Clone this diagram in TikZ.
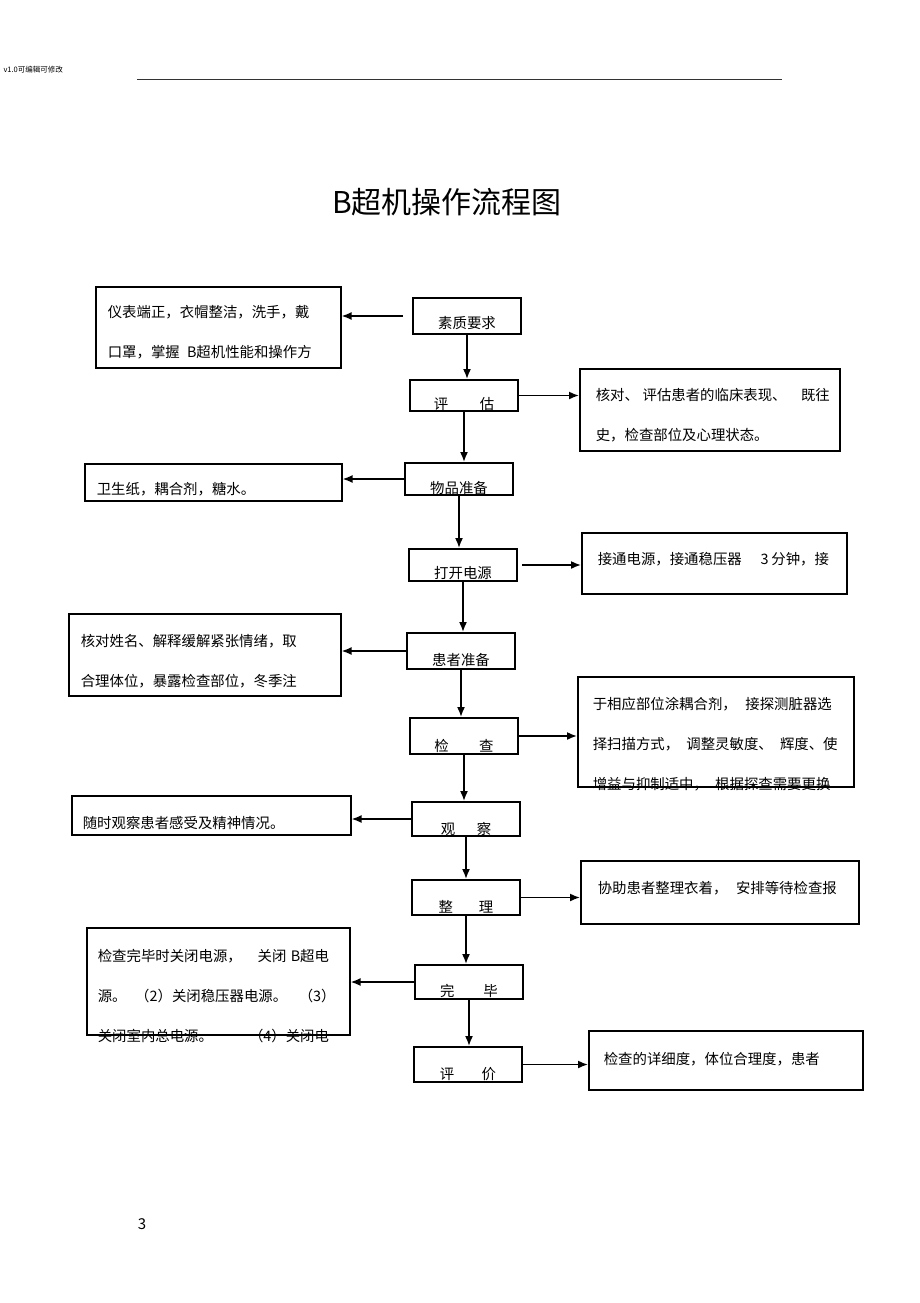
\documentclass[tikz,border=0pt]{standalone}
\usepackage{fontspec}
\setmainfont{Noto Sans CJK SC}
\usetikzlibrary{arrows.meta}
\newcommand\cgap[1]{\nobreak\hspace{#1}}
\begin{document}
\begin{tikzpicture}[x=1pt,y=-1pt,
  stage/.style={draw,line width=2pt,anchor=north west,inner sep=0pt,text width=108pt,align=center,font=\fontsize{14.4}{16}\selectfont},
  note/.style={draw,line width=1.6pt,anchor=north west,inner ysep=0pt,align=left,font=\fontsize{14.4}{40}\selectfont},
  flow/.style={line width=1.6pt,-{Latex[length=10pt,width=8pt]}}]
  \useasboundingbox (0,0) rectangle (920,1303);
  \node[anchor=west,font=\fontsize{7.5}{8}\selectfont] (ver) at (0,70) {v1.0可编辑可修改};
  \draw[line width=0.8pt,black!80] (137,79) -- (782,79);
  \node[font=\fontsize{30}{30}\selectfont] (title) at (447,202) {B超机操作流程图};

  \node[stage,text height=30.5pt,text depth=5.5pt] (req) at (412,297) {素质要求};
  \node[stage,text height=29.5pt,text depth=1.5pt] (assess) at (409,379) {评\cgap{2.2em}估};
  \node[stage,text height=30.5pt,text depth=1.5pt] (prep) at (404,462) {物品准备};
  \node[stage,text height=29.5pt,text depth=2.5pt] (power) at (408,548) {打开电源};
  \node[stage,text height=32.5pt,text depth=3.5pt] (patient) at (406,632) {患者准备};
  \node[stage,text height=33.5pt,text depth=2.5pt] (exam) at (409,717) {检\cgap{2.1em}查};
  \node[stage,text height=32.5pt,text depth=1.5pt] (watch) at (411,801) {观\cgap{1.5em}察};
  \node[stage,text height=32.5pt,text depth=2.5pt] (tidy) at (411,879) {整\cgap{1.8em}理};
  \node[stage,text height=31.5pt,text depth=2.5pt] (done) at (414,964) {完\cgap{2em}毕};
  \node[stage,text height=32.5pt,text depth=2.5pt] (review) at (413,1046) {评\cgap{1.9em}价};

  \node[note,inner xsep=12pt,text width=221pt,text height=30.5pt,text depth=50.5pt] (reqnote) at (95,286)
    {仪表端正，衣帽整洁，洗手，戴\\口罩，掌握\cgap{0.5em}B超机性能和操作方};
  \node[note,inner xsep=16pt,text width=228pt,text height=31.5pt,text depth=50.5pt] (assessnote) at (579,368)
    {核对、\cgap{0.25em}评估患者的临床表现、\cgap{1em}既往\\史，检查部位及心理状态。};
  \node[note,inner xsep=12pt,text width=233pt,text height=30.5pt,text depth=6.5pt] (prepnote) at (84,463)
    {卫生纸，耦合剂，糖水。};
  \node[note,inner xsep=16pt,text width=233pt,text height=31.5pt,text depth=29.5pt] (powernote) at (581,532)
    {接通电源，接通稳压器\cgap{1.3em}3\cgap{0.2em}分钟，接};
  \node[note,inner xsep=12pt,text width=248pt,text height=32.5pt,text depth=49.5pt] (patnote) at (68,613)
    {核对姓名、解释缓解紧张情绪，取\\合理体位，暴露检查部位，冬季注};
  \node[note,inner xsep=15pt,text width=246pt,text height=32.5pt,text depth=77.5pt] (examnote) at (577,676)
    {于相应部位涂耦合剂，\cgap{0.6em}接探测脏器选\\择扫描方式，\cgap{0.5em}调整灵敏度、\cgap{0.5em}辉度、使\\增益与抑制适中，\cgap{0.5em}根据探查需要更换};
  \node[note,inner xsep=11pt,text width=257pt,text height=32.5pt,text depth=6.5pt] (watchnote) at (71,795)
    {随时观察患者感受及精神情况。};
  \node[note,inner xsep=17pt,text width=244pt,text height=32.5pt,text depth=30.5pt] (tidynote) at (580,860)
    {协助患者整理衣着，\cgap{0.6em}安排等待检查报};
  \node[note,inner xsep=11pt,text width=241pt,text height=33.5pt,text depth=73.5pt] (donenote) at (86,927)
    {检查完毕时关闭电源，\cgap{1.1em}关闭\cgap{0.3em}B超电\\源。\cgap{0.6em}（2）关闭稳压器电源。\cgap{0.8em}（3）\\关闭室内总电源。\cgap{2.5em}（4）关闭电};
  \node[note,inner xsep=15pt,text width=244pt,text height=33.5pt,text depth=25.5pt] (reviewnote) at (588,1030)
    {检查的详细度，体位合理度，患者};

  \draw[flow,shorten <=9pt] (req.west) -- (req.west -| reqnote.east);
  \draw[flow] (req.south) -- (req.south |- assess.north);
  \draw[flow] (assess.east) -- (assess.east -| assessnote.west);
  \draw[flow] (assess.south) -- (assess.south |- prep.north);
  \draw[flow] (prep.west) -- (prep.west -| prepnote.east);
  \draw[flow] (prep.south) -- (prep.south |- power.north);
  \draw[flow,shorten <=4pt] (power.east) -- (power.east -| powernote.west);
  \draw[flow] (power.south) -- (power.south |- patient.north);
  \draw[flow] (patient.west) -- (patient.west -| patnote.east);
  \draw[flow] (patient.south) -- (patient.south |- exam.north);
  \draw[flow] (exam.east) -- (exam.east -| examnote.west);
  \draw[flow] (exam.south) -- (exam.south |- watch.north);
  \draw[flow] (watch.west) -- (watch.west -| watchnote.east);
  \draw[flow] (watch.south) -- (watch.south |- tidy.north);
  \draw[flow] (tidy.east) -- (tidy.east -| tidynote.west);
  \draw[flow] (tidy.south) -- (tidy.south |- done.north);
  \draw[flow] (done.west) -- (done.west -| donenote.east);
  \draw[flow] (done.south) -- (done.south |- review.north);
  \draw[flow] (review.east) -- (review.east -| reviewnote.west);

  \node[font=\fontsize{15}{15}\selectfont] (pnum) at (142,1224) {3};
\end{tikzpicture}
\end{document}
